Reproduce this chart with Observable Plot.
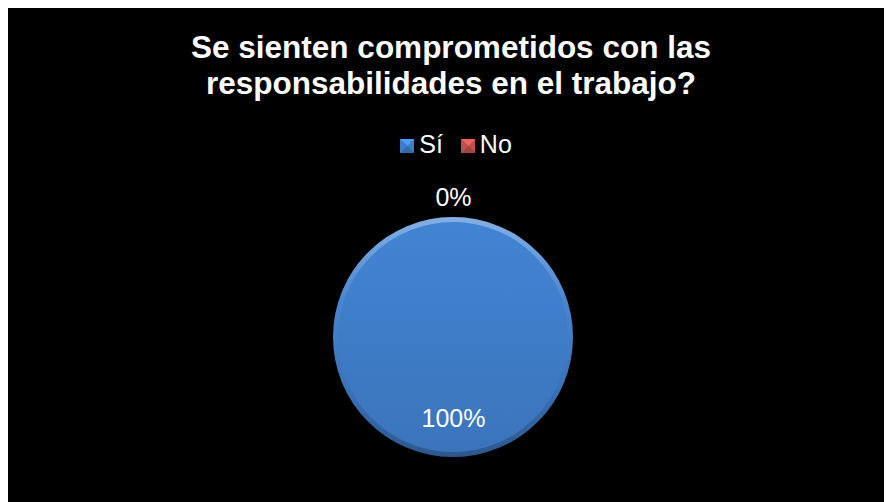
<!DOCTYPE html>
<html><head><meta charset="utf-8">
<script src="https://cdn.jsdelivr.net/npm/d3@7"></script>
<script src="https://cdn.jsdelivr.net/npm/@observablehq/plot@0.6"></script>
<style>
body{margin:0;background:#fff;}
#chart{position:absolute;left:8px;top:8px;width:876px;height:494px;background:#000;overflow:hidden;font-family:"Liberation Sans",Arial,sans-serif;color:#fff;}
#title{position:absolute;left:5px;top:21px;width:876px;text-align:center;font-weight:bold;font-size:31.5px;line-height:36px;margin:0;}
#legend{position:absolute;left:10px;top:124px;width:876px;text-align:center;font-size:25px;line-height:25px;white-space:nowrap;}
.item{display:inline-block;margin:0 9px;}
.sw{display:inline-block;width:14px;height:14px;margin-right:5px;vertical-align:baseline;}
#plot{position:absolute;left:0;top:160px;}
</style>
</head><body>
<div id="chart">
  <div id="title">Se sienten comprometidos con las<br>responsabilidades en el trabajo?</div>
  <div id="legend"></div>
  <div id="plot"></div>
</div>
<script>
// ---- data ----
const categories = ["Sí", "No"];
const values = [100, 0];
const labels = ["100%", "0%"];
const colors = ["#3f7dc9", "#c0504d"];

// ---- layout constants ----
const W = 876, H = 334;
const CX = 445, CY = 169, R = 120; // pixel layout of the pie (not data)

const pie = d3.pie().sort(null).value(d => d.value);
const table = categories.map((c, i) => ({category: c, value: values[i], label: labels[i]}));
const arcs = pie(table);

// label positions derived from arc mid angles (in radius units, y up)
const labelData = arcs.map(a => {
  const mid = (a.startAngle + a.endAngle) / 2;
  const rr = a.data.value === 0 ? 1.16 : 0.675;
  return {x: Math.sin(mid) * rr, y: Math.cos(mid) * rr, text: a.data.label};
});

function pieMark(index, scales) {
  const cx = scales.x(0), cy = scales.y(0), r = scales.x(1) - scales.x(0);
  const g = d3.create("svg:g");
  const defs = g.append("defs");
  arcs.forEach((a, i) => {
    const base = d3.color(scales.color(a.data.category));
    const lg = defs.append("linearGradient").attr("id", "fill-" + i)
      .attr("x1", 0).attr("y1", 0).attr("x2", 0).attr("y2", 1);
    lg.append("stop").attr("offset", "0%").attr("stop-color", base.brighter(0.15).formatHex());
    lg.append("stop").attr("offset", "100%").attr("stop-color", base.darker(0.2).formatHex());
  });
  const bev = defs.append("linearGradient").attr("id", "bevel")
    .attr("x1", 0).attr("y1", 0).attr("x2", 0).attr("y2", 1);
  bev.append("stop").attr("offset", "0%").attr("stop-color", "#ffffff").attr("stop-opacity", 0.35);
  bev.append("stop").attr("offset", "35%").attr("stop-color", "#ffffff").attr("stop-opacity", 0.05);
  bev.append("stop").attr("offset", "70%").attr("stop-color", "#000000").attr("stop-opacity", 0.05);
  bev.append("stop").attr("offset", "100%").attr("stop-color", "#000000").attr("stop-opacity", 0.25);

  const arc = d3.arc().innerRadius(0).outerRadius(r);
  const gg = g.append("g").attr("transform", `translate(${cx},${cy})`);
  gg.selectAll("path.slice").data(arcs).join("path")
    .attr("class", "slice")
    .attr("d", arc)
    .attr("fill", (d, i) => `url(#fill-${i})`);
  const ring = d3.arc().innerRadius(r - 5).outerRadius(r);
  gg.selectAll("path.bevel").data(arcs.filter(a => a.data.value > 0)).join("path")
    .attr("class", "bevel")
    .attr("d", ring)
    .attr("fill", "url(#bevel)");
  return g.node();
}

const plot = Plot.plot({
  width: W, height: H,
  margin: 0,
  style: {background: "transparent"},
  x: {axis: null, domain: [-CX / R, (W - CX) / R]},
  y: {axis: null, domain: [-(H - CY) / R, CY / R]},
  color: {type: "ordinal", domain: categories, range: colors},
  marks: [
    pieMark,
    Plot.text(labelData, {
      x: "x", y: "y", text: "text",
      fill: "#ffffff", fontSize: 25,
      fontFamily: "Liberation Sans, Arial, sans-serif",
      textAnchor: "middle", lineAnchor: "middle"
    })
  ]
});
document.getElementById("plot").appendChild(plot);

// legend built from the color scale
const cs = plot.scale("color");
const legend = document.getElementById("legend");
cs.domain.forEach((c, i) => {
  const base = d3.color(cs.range[i]);
  const light = base.brighter(0.6).formatHex(), mid = base.formatHex(), dark = base.darker(0.5).formatHex();
  const item = document.createElement("span");
  item.className = "item";
  const sw = document.createElement("span");
  sw.className = "sw";
  sw.style.background = `conic-gradient(from -45deg, ${light} 0deg 90deg, ${mid} 90deg 180deg, ${dark} 180deg 270deg, ${mid} 270deg 360deg)`;
  item.appendChild(sw);
  item.appendChild(document.createTextNode(c));
  legend.appendChild(item);
});
</script>
</body></html>
